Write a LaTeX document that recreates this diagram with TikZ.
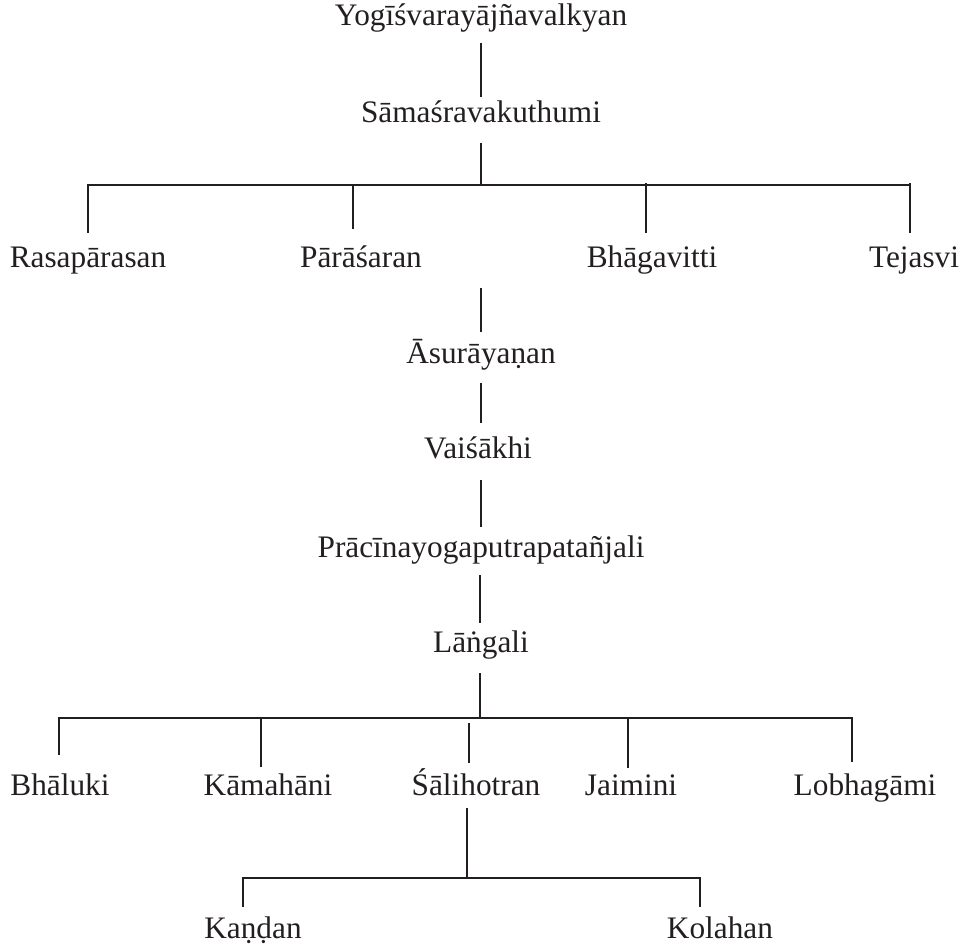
\documentclass[tikz,border=0pt]{standalone}
\usepackage{fontspec}
\setmainfont{Liberation Serif}
\definecolor{ink}{HTML}{231F20}
\tikzset{
  lbl/.style={anchor=base, inner sep=0pt, text=ink, font=\fontsize{31.3}{36}\selectfont},
  conn/.style={draw=ink, line width=2.2pt}
}
\begin{document}
\begin{tikzpicture}[x=1pt, y=-1pt]
\useasboundingbox (0,0) rectangle (966,952);
% labels
\node[lbl] (yogi) at (481,26) {Yogīśvarayājñavalkyan};
\node[lbl] (sama) at (481,123) {Sāmaśravakuthumi};
\node[lbl] (rasa) at (88,267) {Rasapārasan};
\node[lbl] (para) at (361,267) {Pārāśaran};
\node[lbl] (bhaga) at (652,267) {Bhāgavitti};
\node[lbl] (teja) at (914,267) {Tejasvi};
\node[lbl] (asura) at (481,363) {Āsurāyaṇan};
\node[lbl] (vaisa) at (478,458) {Vaiśākhi};
\node[lbl] (praci) at (481,557) {Prācīnayogaputrapatañjali};
\node[lbl] (langa) at (481,652) {Lāṅgali};
\node[lbl] (bhalu) at (60,795) {Bhāluki};
\node[lbl] (kama) at (268,795) {Kāmahāni};
\node[lbl] (sali) at (476,795) {Śālihotran};
\node[lbl] (jaim) at (631,795) {Jaimini};
\node[lbl] (lobha) at (865,795) {Lobhagāmi};
\node[lbl] (kanda) at (253,938) {Kaṇḍan};
\node[lbl] (kola) at (720,938) {Kolahan};
% connector end points
\coordinate (yogiB) at (481,43);  \coordinate (samaT) at (481,97);
\coordinate (samaB) at (481,143); \coordinate (busA) at (481,185);
\coordinate (busAL) at (88,185);  \coordinate (busAR) at (910,185);
\coordinate (paraJ) at (353,185); \coordinate (bhagaJ) at (646,183); \coordinate (tejaJ) at (910,183);
\coordinate (rasaT) at (88,233);  \coordinate (paraT) at (353,229);
\coordinate (bhagaT) at (646,233); \coordinate (tejaT) at (910,233);
\coordinate (paraB) at (481,288); \coordinate (asuraT) at (481,332);
\coordinate (asuraB) at (481,383); \coordinate (vaisaT) at (481,423);
\coordinate (vaisaB) at (481,480); \coordinate (praciT) at (481,527);
\coordinate (praciB) at (480,575); \coordinate (langaT) at (480,623);
\coordinate (langaB) at (480,673); \coordinate (busB) at (480,718);
\coordinate (busBL) at (59,718);  \coordinate (busBR) at (852,718);
\coordinate (kamaJ) at (261,718); \coordinate (jaimJ) at (628,718);
\coordinate (bhaluT) at (59,755); \coordinate (kamaT) at (261,767);
\coordinate (saliJ) at (469,723); \coordinate (saliT) at (469,763);
\coordinate (jaimT) at (628,768); \coordinate (lobhaT) at (852,762);
\coordinate (saliB) at (467,808); \coordinate (busC) at (467,878);
\coordinate (busCL) at (243,878); \coordinate (busCR) at (700,878);
\coordinate (kandaT) at (243,907); \coordinate (kolaT) at (700,907);
% connectors
\draw[conn] (yogiB) -- (samaT);
\draw[conn] (samaB) -- (busA);
\draw[conn] (rasaT) -- (busAL) -- (busAR) -- (tejaT);
\draw[conn] (paraJ) -- (paraT);
\draw[conn] (bhagaJ) -- (bhagaT);
\draw[conn] (tejaJ) -- (tejaT);
\draw[conn] (paraB) -- (asuraT);
\draw[conn] (asuraB) -- (vaisaT);
\draw[conn] (vaisaB) -- (praciT);
\draw[conn] (praciB) -- (langaT);
\draw[conn] (langaB) -- (busB);
\draw[conn] (bhaluT) -- (busBL) -- (busBR) -- (lobhaT);
\draw[conn] (kamaJ) -- (kamaT);
\draw[conn] (saliJ) -- (saliT);
\draw[conn] (jaimJ) -- (jaimT);
\draw[conn] (saliB) -- (busC);
\draw[conn] (kandaT) -- (busCL) -- (busCR) -- (kolaT);
\end{tikzpicture}
\end{document}
